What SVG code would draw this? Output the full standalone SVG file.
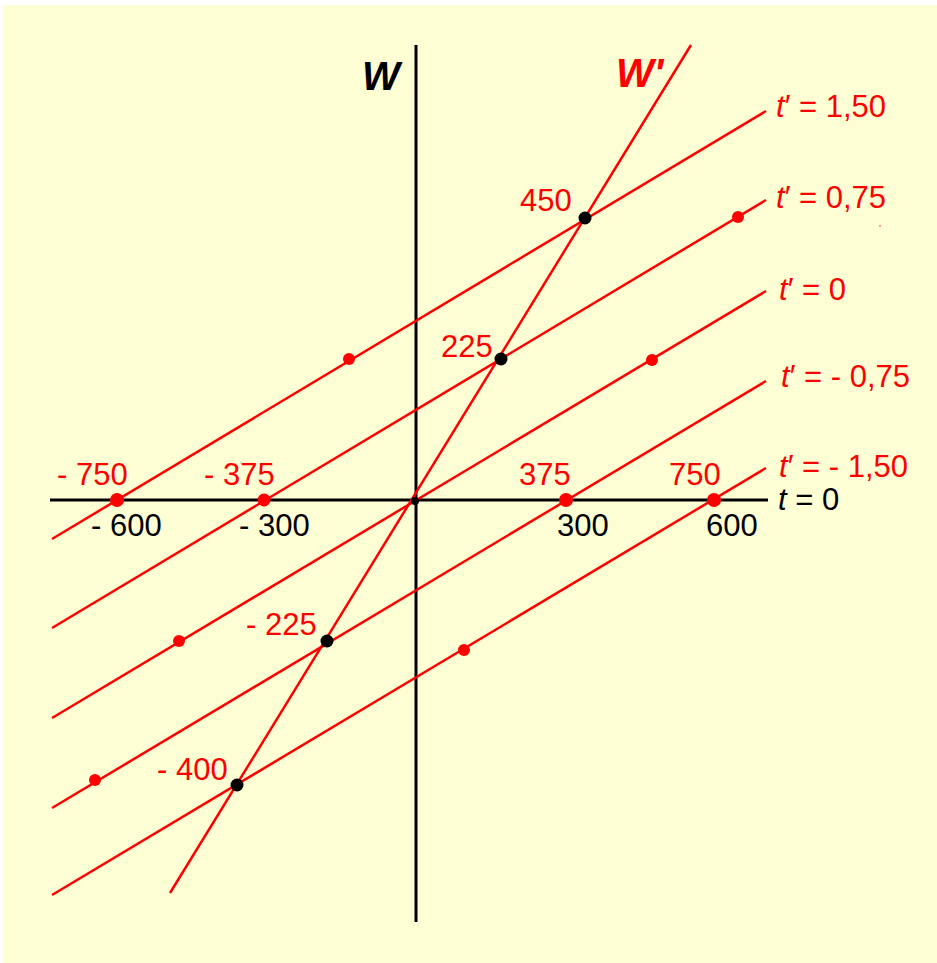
<svg xmlns="http://www.w3.org/2000/svg" width="937" height="963" viewBox="0 0 937 963">
<style>
.ax{stroke:#000;stroke-width:3;fill:none}
.rl{stroke:#f00;stroke-width:2.5;fill:none}
.rd{fill:#f00}
.bd{fill:#000}
.rt{fill:#f00;font-family:"Liberation Sans",Arial,sans-serif;font-size:31px}
.bt{fill:#000;font-family:"Liberation Sans",Arial,sans-serif;font-size:31px}
.it{font-style:italic}
.big{font-family:"Liberation Sans",Arial,sans-serif;font-size:40px;font-weight:bold;font-style:italic}
</style>
<rect x="0" y="0" width="937" height="963" fill="#fff"/>
<rect x="3" y="5" width="934" height="958" fill="#FEFED5"/>
<g id="axes">
<line class="ax" x1="416" y1="45" x2="416" y2="922"/>
<line class="ax" x1="50" y1="500" x2="768" y2="500"/>
</g>
<g id="lines">
<line class="rl" x1="52" y1="539" x2="766" y2="111"/>
<line class="rl" x1="52" y1="628" x2="766" y2="200"/>
<line class="rl" x1="52" y1="718" x2="766" y2="291"/>
<line class="rl" x1="52" y1="808" x2="766" y2="381"/>
<line class="rl" x1="52" y1="895" x2="766" y2="468"/>
<line class="rl" x1="691" y1="45" x2="170" y2="893"/>
</g>
<g id="dots">
<circle class="rd" cx="117" cy="500" r="7"/>
<circle class="rd" cx="264" cy="500" r="6.5"/>
<circle class="rd" cx="566" cy="500" r="7"/>
<circle class="rd" cx="714" cy="500" r="7"/>
<circle class="rd" cx="349" cy="359" r="6"/>
<circle class="rd" cx="738" cy="217" r="6"/>
<circle class="rd" cx="652" cy="360" r="6"/>
<circle class="rd" cx="179" cy="641" r="6"/>
<circle class="rd" cx="95" cy="780" r="6"/>
<circle class="rd" cx="464" cy="650" r="6"/>
<circle class="bd" cx="585" cy="218" r="6.5"/>
<circle class="bd" cx="501" cy="359" r="6.5"/>
<circle class="bd" cx="327" cy="641" r="6.5"/>
<circle class="bd" cx="237" cy="785" r="6.5"/>
<circle class="bd" cx="415" cy="501" r="4"/>
<circle fill="#f00" opacity="0.5" cx="880" cy="226" r="1"/>
</g>
<g id="labels">
<text class="big" x="362" y="90" fill="#000">W</text>
<text class="big" x="616" y="87" fill="#f00">W'</text>
<text class="rt" x="776" y="117"><tspan class="it">t</tspan>′ = 1,50</text>
<text class="rt" x="776" y="208"><tspan class="it">t</tspan>′ = 0,75</text>
<text class="rt" x="779" y="300"><tspan class="it">t</tspan>′ = 0</text>
<text class="rt" x="781" y="387"><tspan class="it">t</tspan>′ = - 0,75</text>
<text class="rt" x="779" y="477"><tspan class="it">t</tspan>′ = - 1,50</text>
<text class="bt" x="778" y="510"><tspan class="it">t</tspan> = 0</text>
<text class="rt" x="57" y="485">- 750</text>
<text class="rt" x="204" y="485">- 375</text>
<text class="rt" x="519" y="485">375</text>
<text class="rt" x="669" y="485">750</text>
<text class="bt" x="91" y="536">- 600</text>
<text class="bt" x="239" y="536">- 300</text>
<text class="bt" x="557" y="536">300</text>
<text class="bt" x="706" y="536">600</text>
<text class="rt" x="520" y="211">450</text>
<text class="rt" x="441" y="357">225</text>
<text class="rt" x="246" y="635">- 225</text>
<text class="rt" x="157" y="780">- 400</text>
</g>
</svg>
